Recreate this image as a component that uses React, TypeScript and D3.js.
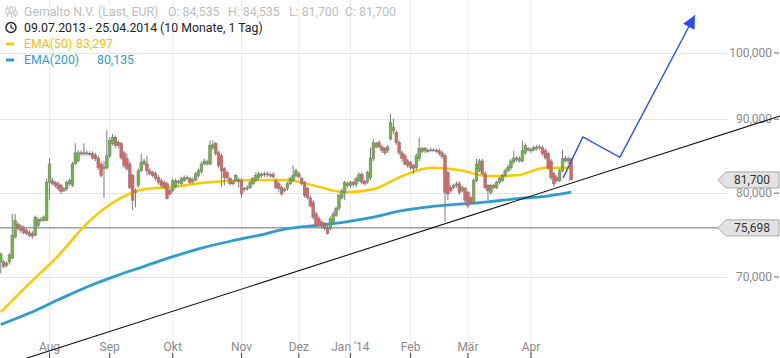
import React from 'react';
import * as d3 from 'd3';

// daily candles 09.07.2013 - 25.04.2014: [open, high, low, close]
const candles: number[][] = [
  [71.7,72.8,70.4,72.6],[71.7,71.9,71.0,71.2],[71.3,71.8,71.1,71.5],[71.7,72.7,71.4,72.5],[72.1,77.4,72.0,74.8],
  [74.6,77.4,74.4,76.6],[76.1,76.4,75.4,75.6],[75.9,76.1,75.1,75.4],[75.7,76.0,74.9,75.1],[75.4,75.6,74.8,75.0],
  [75.1,75.4,74.6,74.8],[75.0,75.3,74.4,74.7],[74.8,77.2,74.7,77.0],[76.0,77.0,75.7,76.7],[76.7,77.0,76.4,76.6],
  [76.6,77.2,76.4,77.0],[76.6,81.9,76.5,81.4],[81.4,84.6,79.1,83.8],[81.6,82.0,81.0,81.2],[81.4,81.6,80.7,81.0],
  [81.2,81.5,80.3,80.6],[81.0,81.2,79.9,80.2],[80.3,80.8,80.1,80.6],[80.6,81.6,80.3,81.4],[81.2,81.9,81.0,81.6],
  [81.0,84.1,80.8,83.8],[83.8,86.6,83.7,85.3],[84.2,85.7,84.0,85.3],[85.3,85.6,84.9,85.2],[85.2,86.6,84.9,85.3],
  [85.3,85.6,84.9,85.2],[85.2,85.5,84.9,85.2],[85.2,85.5,84.4,84.6],[85.0,85.3,84.2,84.5],[84.6,84.9,83.0,83.3],
  [83.8,84.1,82.0,82.3],[83.4,84.2,79.4,83.2],[83.3,88.4,83.0,84.9],[84.9,87.4,84.6,87.0],[86.6,87.9,86.3,87.4],
  [87.4,87.7,86.0,86.3],[86.7,87.0,85.9,86.3],[86.6,86.8,84.4,84.6],[85.3,85.6,83.3,83.6],[84.5,85.2,82.9,83.2],
  [83.8,84.1,80.5,80.7],[82.3,82.5,77.9,79.1],[80.1,80.6,78.2,80.3],[81.0,83.2,80.7,82.9],[82.9,85.2,82.7,84.0],
  [83.8,84.5,83.6,84.2],[83.8,84.9,82.3,82.9],[82.9,83.2,82.3,82.5],[82.7,82.9,82.0,82.3],[82.5,82.8,81.6,81.9],
  [82.0,82.3,81.1,81.4],[81.6,81.9,80.7,81.0],[81.4,81.6,80.5,80.7],[81.2,81.5,79.2,79.3],[80.3,80.6,79.7,79.9],
  [80.3,81.9,80.1,81.6],[80.8,81.9,80.6,81.6],[81.4,81.7,81.1,81.5],[81.2,82.1,81.0,81.9],[81.6,82.3,81.4,82.0],
  [81.9,82.3,81.6,82.0],[81.9,82.1,81.1,81.4],[81.5,82.0,81.2,81.7],[81.7,82.8,81.5,82.5],[82.3,83.2,82.0,82.9],
  [82.8,84.1,82.5,83.8],[83.8,84.5,83.6,84.2],[83.8,84.4,83.6,84.1],[83.8,87.0,83.6,86.3],[86.0,87.0,85.7,86.4],
  [86.6,86.8,84.9,85.2],[85.3,85.6,83.3,83.6],[84.9,85.2,80.8,82.9],[83.2,83.4,81.0,82.0],[82.7,82.9,81.7,82.0],
  [81.9,82.1,81.0,81.2],[81.2,81.7,81.0,81.5],[81.6,82.5,81.4,82.3],[81.7,82.0,80.7,81.5],[81.6,81.9,79.4,79.9],
  [80.6,80.8,80.2,80.5],[80.7,81.0,80.3,80.6],[80.7,81.6,80.5,81.4],[81.2,82.1,81.0,81.9],[81.6,82.7,81.4,82.3],
  [82.0,82.8,81.7,82.5],[82.3,82.7,82.0,82.4],[82.4,82.8,82.1,82.5],[82.5,82.8,82.1,82.4],[82.4,82.7,82.0,82.3],
  [82.4,82.7,81.9,82.1],[81.6,81.9,80.5,80.7],[81.2,81.5,80.1,80.6],[80.7,81.0,79.7,79.9],[80.3,80.7,80.1,80.5],
  [80.6,81.5,80.3,81.2],[81.2,82.1,81.0,81.9],[81.6,83.6,81.4,82.3],[82.3,83.2,82.0,82.9],[82.5,82.8,81.9,82.1],
  [81.9,82.1,81.0,81.2],[81.4,81.6,79.4,79.7],[80.6,80.8,79.2,79.4],[79.4,79.7,78.2,78.4],[78.8,79.1,76.7,77.0],
  [77.4,77.7,75.7,76.0],[76.8,77.1,75.7,76.0],[76.4,76.6,75.6,75.9],[76.1,76.4,75.4,75.6],[75.7,76.0,74.9,75.0],
  [75.6,77.1,75.4,76.8],[76.4,77.7,76.1,77.4],[77.2,78.3,77.0,78.1],[78.1,79.9,77.8,79.7],[79.4,80.6,79.2,80.3],
  [80.1,81.6,79.1,81.4],[81.2,81.5,80.7,81.0],[81.0,81.6,80.7,81.4],[81.4,81.6,80.8,81.1],[81.1,82.1,80.8,81.9],
  [81.6,82.7,81.4,82.4],[82.4,82.7,81.1,81.4],[81.5,81.7,81.0,81.2],[81.5,82.9,81.2,82.7],[82.0,86.0,81.7,84.6],
  [84.5,87.2,84.2,86.7],[86.1,86.8,85.9,86.6],[86.7,87.0,85.9,86.1],[86.1,86.4,85.3,85.6],[85.9,86.1,85.0,85.3],
  [85.6,86.4,85.3,86.1],[87.2,90.8,87.0,89.5],[88.8,90.1,87.9,88.4],[88.1,88.4,86.4,86.7],[86.7,87.0,85.0,85.3],
  [85.3,85.6,84.1,84.5],[84.9,85.2,83.6,83.8],[84.2,84.5,83.3,83.6],[84.0,84.2,83.0,83.3],[83.6,83.8,82.5,83.2],
  [83.3,85.2,83.0,84.9],[84.5,87.4,84.2,85.9],[85.5,86.1,85.2,85.9],[85.9,86.1,85.3,85.6],[85.6,85.9,85.3,85.6],
  [85.6,86.0,85.5,85.7],[85.7,85.9,85.5,85.6],[85.6,85.9,85.3,85.6],[85.6,85.9,84.9,85.2],[85.3,85.6,84.5,84.8],
  [84.9,85.2,76.4,80.1],[82.7,82.9,79.1,79.9],[80.7,81.0,80.1,80.3],[80.7,81.2,80.5,81.0],[81.0,81.5,80.7,81.2],
  [81.2,81.5,79.8,80.1],[80.3,81.0,80.1,80.7],[80.6,80.8,78.8,79.1],[80.1,80.3,78.1,78.4],[79.4,79.7,78.6,78.8],
  [78.8,81.9,78.6,81.6],[81.6,84.5,81.4,83.8],[82.9,84.5,82.7,84.2],[84.2,84.5,82.3,82.5],[82.5,82.8,80.5,80.7],
  [81.0,81.2,79.1,80.3],[80.1,81.2,79.8,81.0],[81.0,81.2,80.5,80.7],[80.7,81.6,80.5,81.4],[81.4,82.1,81.1,81.9],
  [81.6,82.5,81.4,82.3],[82.3,83.2,82.0,82.9],[82.9,83.7,82.7,83.4],[83.3,84.5,83.0,84.2],[84.1,85.6,83.8,84.6],
  [84.6,84.9,84.1,84.4],[84.2,84.8,84.0,84.5],[84.2,87.0,84.0,85.6],[85.3,86.6,85.0,86.3],[85.9,86.1,85.5,85.7],
  [85.6,86.0,85.3,85.7],[85.7,86.3,85.5,86.0],[85.9,86.4,85.6,86.1],[86.1,86.4,85.7,86.0],[86.0,86.3,84.9,85.2],
  [85.6,85.9,84.4,84.6],[85.2,85.5,83.0,83.3],[84.2,84.5,81.7,82.0],[82.5,82.8,80.8,81.2],[82.0,82.3,81.4,81.6],
  [81.6,83.2,81.4,82.9],[82.9,85.7,82.7,84.5],[84.6,84.9,84.0,84.2],[84.2,84.8,83.8,84.5],[84.535,84.535,81.7,81.7],
];

// moving averages read every 10 sessions (last point = last session)
const emaIdx = [0,10,20,30,40,50,60,70,80,90,100,110,120,130,140,150,160,170,180,190,199];
const ema50 = [66.2,69.3,72.4,76.2,79.0,80.5,80.8,81.3,81.6,81.7,81.7,80.9,80.1,80.5,82.2,83.3,83.0,82.2,82.3,83.3,83.297];
const ema200 = [64.9,66.1,67.5,68.9,70.1,71.2,72.3,73.3,74.1,74.8,75.6,76.0,76.4,77.0,77.8,78.3,78.6,78.9,79.3,79.6,80.135];

const monthLabels = ['Aug','Sep','Okt','Nov','Dez',"Jan '14",'Feb','Mär','Apr'];
const monthIdx = [17,38,60,84,104,122,143,163,185];
const yTicks = [70,80,90,100];

const trendLine = [[10,61.6],[270,90.2]];
const projection = [[196.2,81.95],[203.1,87.5],[216.0,84.7],[242.2,106.2]];
const horizLevel = 75.698;
const lastClose = 81.7;

const W = 780, H = 358;
const fmt = d3.formatLocale({ decimal: ',', thousands: '.', grouping: [3], currency: ['', '€'] }).format(',.3f');
const FONT = 'Roboto, "Open Sans", sans-serif';

export default function App() {
  const x = d3.scaleLinear().domain([0, candles.length - 1]).range([0.8, 571.1]);
  const y = d3.scaleLog().domain([70, 100]).range([277, 53]);

  const emaLine = (vals: number[]) =>
    d3.line<number>().x((_, i) => x(emaIdx[i])).y(v => y(v)).curve(d3.curveMonotoneX)(vals) || '';

  // trend line, extended across the plot
  const tx0 = x(trendLine[0][0]), ty0 = y(trendLine[0][1]);
  const tx1 = x(trendLine[1][0]), ty1 = y(trendLine[1][1]);
  const slope = (ty1 - ty0) / (tx1 - tx0);
  const tyAt = (px: number) => ty0 + slope * (px - tx0);

  const projPts = projection.map(p => [x(p[0]), y(p[1])] as [number, number]);
  const tip = projPts[projPts.length - 1];
  const prev = projPts[projPts.length - 2];
  const ang = Math.atan2(tip[1] - prev[1], tip[0] - prev[0]);
  const aL = 13, aW = 6.5;
  const bx = tip[0] - aL * Math.cos(ang), by = tip[1] - aL * Math.sin(ang);
  const arrow = [
    [tip[0], tip[1]],
    [bx + aW * Math.sin(ang), by - aW * Math.cos(ang)],
    [bx - aW * Math.sin(ang), by + aW * Math.cos(ang)],
  ].map(p => p.join(',')).join(' ');

  const priceTag = (v: number) => {
    const cy = y(v);
    const pts = [[718, cy], [726, cy - 8], [779, cy - 8], [779, cy + 8], [726, cy + 8]]
      .map(p => p.join(',')).join(' ');
    return (
      <g key={v}>
        <polygon points={pts} fill="#e2e2e2" stroke="#a8a8a8" strokeWidth={1} />
        <text x={752} y={cy} textAnchor="middle" dominantBaseline="central"
          fontSize={12} fill="#333" fontFamily={FONT}>{fmt(v)}</text>
      </g>
    );
  };

  return (
    <svg width={W} height={H} style={{ position: 'absolute', left: 0, top: 0, background: '#fff' }}>
      {/* grid */}
      {monthIdx.map((m, i) => (
        <line key={'vg' + i} x1={x(m)} x2={x(m)} y1={0} y2={H} stroke="#ececec" strokeWidth={1} />
      ))}
      {yTicks.map(t => (
        <line key={'hg' + t} x1={0} x2={727} y1={Math.round(y(t)) + 0.5} y2={Math.round(y(t)) + 0.5}
          stroke="#e4e4e4" strokeWidth={1} />
      ))}

      {/* y axis labels */}
      {yTicks.map(t => (
        <g key={'yl' + t}>
          <text x={772} y={y(t)} textAnchor="end" dominantBaseline="central" fontSize={12}
            fill="#8a8a8a" fontFamily={FONT}>{fmt(t)}</text>
          <line x1={774} x2={779} y1={y(t)} y2={y(t)} stroke="#666" />
        </g>
      ))}

      {/* x axis */}
      {monthIdx.map((m, i) => (
        <g key={'xl' + i}>
          <text x={x(m)} y={347} textAnchor="middle" dominantBaseline="central" fontSize={12}
            fill="#8a8a8a" fontFamily={FONT}>{monthLabels[i]}</text>
          <line x1={x(m)} x2={x(m)} y1={353} y2={358} stroke="#444" />
        </g>
      ))}

      {/* horizontal level */}
      <line x1={0} x2={718} y1={y(horizLevel)} y2={y(horizLevel)} stroke="#6e6e6e" strokeWidth={1} />

      {/* moving averages */}
      <path d={emaLine(ema200)} fill="none" stroke="#2e9dcc" strokeWidth={2.8} />
      <path d={emaLine(ema50)} fill="none" stroke="#fcc800" strokeWidth={2.5} />

      {/* candles */}
      {candles.map((c, i) => {
        const [o, h, l, cl] = c;
        const cx = x(i);
        const top = y(Math.max(o, cl));
        const bot = y(Math.min(o, cl));
        const col = cl > o ? '#6dba3a' : cl < o ? '#ec5f5f' : '#8a8a8a';
        return (
          <g key={'c' + i}>
            <line x1={cx} x2={cx} y1={y(h)} y2={y(l)} stroke="#7b7b7b" strokeWidth={1} />
            <rect x={cx - 1.3} y={top} width={2.6} height={Math.max(1, bot - top)}
              fill={col} stroke="#7b7b7b" strokeWidth={0.6} />
          </g>
        );
      })}

      {/* trend line */}
      <line x1={0} y1={tyAt(0)} x2={W} y2={tyAt(W)} stroke="#111" strokeWidth={1.1} />

      {/* projection arrow */}
      <path d={d3.line()(projPts) || ''} fill="none" stroke="#2a4cf2" strokeWidth={1.4} />
      <polygon points={arrow} fill="#2a4cf2" />

      {/* price tags */}
      {priceTag(lastClose)}
      {priceTag(horizLevel)}

      {/* legend */}
      <g fontFamily={FONT} fontSize={12.3}>
        <g stroke="#c4c4c4" strokeWidth={1}>
          <line x1={7.5} x2={7.5} y1={6} y2={17} />
          <rect x={6} y={9} width={3} height={5} fill="#fff" />
          <line x1={11.5} x2={11.5} y1={6} y2={17} />
          <rect x={10} y={7} width={3} height={6} fill="#fff" />
          <line x1={15.5} x2={15.5} y1={7} y2={17} />
          <rect x={14} y={11} width={3} height={4} fill="#fff" />
        </g>
        <text x={24} y={12} dominantBaseline="central" fill="#bdbdbd">Gemalto N.V. (Last, EUR)</text>
        <text x={168} y={12} dominantBaseline="central" fill="#bdbdbd">O: 84,535</text>
        <text x={228} y={12} dominantBaseline="central" fill="#bdbdbd">H: 84,535</text>
        <text x={289} y={12} dominantBaseline="central" fill="#bdbdbd">L: 81,700</text>
        <text x={345} y={12} dominantBaseline="central" fill="#bdbdbd">C: 81,700</text>

        <circle cx={11} cy={27.5} r={5} fill="none" stroke="#222" strokeWidth={1.4} />
        <path d="M11,24.5 L11,27.5 L13.5,29" fill="none" stroke="#222" strokeWidth={1.2} />
        <text x={24} y={27.5} dominantBaseline="central" fill="#222">09.07.2013 - 25.04.2014 (10 Monate, 1 Tag)</text>

        <rect x={6} y={42.5} width={8} height={3} fill="#fcc800" />
        <text x={24} y={44} dominantBaseline="central" fill="#f5c000">EMA(50)</text>
        <text x={76} y={44} dominantBaseline="central" fill="#f5c000">{fmt(ema50[ema50.length - 1])}</text>

        <rect x={6} y={58.5} width={8} height={3} fill="#2e9dcc" />
        <text x={24} y={60} dominantBaseline="central" fill="#2e9dcc">EMA(200)</text>
        <text x={97} y={60} dominantBaseline="central" fill="#2e9dcc">{fmt(ema200[ema200.length - 1])}</text>
      </g>
    </svg>
  );
}
